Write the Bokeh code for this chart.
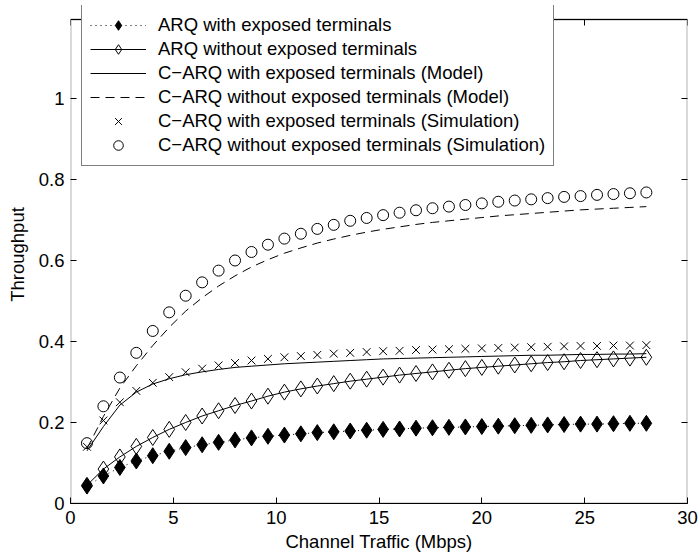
from bokeh.plotting import figure
from bokeh.models import Range1d, LinearAxis, FixedTicker, Legend, LegendItem, BoxAnnotation
from bokeh.embed import file_html
from bokeh.resources import INLINE

FONT = "Liberation Sans"
FS = "18.5px"

# ---------------- data ----------------
traffic = [0.8, 1.6, 2.4, 3.2, 4.0, 4.8, 5.6, 6.4, 7.2, 8.0, 8.8, 9.6, 10.4, 11.2,
           12.0, 12.8, 13.6, 14.4, 15.2, 16.0, 16.8, 17.6, 18.4, 19.2, 20.0, 20.8,
           21.6, 22.4, 23.2, 24.0, 24.8, 25.6, 26.4, 27.2, 28.0]

arq_exposed = [0.043, 0.068, 0.089, 0.105, 0.118, 0.129, 0.138, 0.145, 0.151, 0.157,
               0.162, 0.166, 0.169, 0.172, 0.175, 0.177, 0.179, 0.181, 0.183, 0.184,
               0.186, 0.187, 0.188, 0.189, 0.190, 0.191, 0.192, 0.193, 0.194, 0.195,
               0.196, 0.196, 0.197, 0.198, 0.198]

arq_no_exposed = [0.045, 0.085, 0.115, 0.141, 0.163, 0.183, 0.200, 0.216, 0.229, 0.242,
                  0.253, 0.265, 0.275, 0.283, 0.290, 0.296, 0.302, 0.307, 0.312, 0.317,
                  0.321, 0.325, 0.329, 0.333, 0.336, 0.339, 0.342, 0.345, 0.348, 0.350,
                  0.353, 0.355, 0.357, 0.359, 0.361]

carq_exposed_model = [0.130, 0.190, 0.243, 0.275, 0.295, 0.308, 0.318, 0.325, 0.331, 0.336,
                      0.339, 0.342, 0.345, 0.347, 0.349, 0.351, 0.353, 0.355, 0.357, 0.358,
                      0.359, 0.360, 0.361, 0.362, 0.363, 0.364, 0.365, 0.366, 0.366, 0.367,
                      0.368, 0.368, 0.369, 0.369, 0.370]

carq_no_exposed_model = [0.135, 0.215, 0.285, 0.340, 0.390, 0.435, 0.475, 0.508, 0.537, 0.562,
                         0.584, 0.602, 0.618, 0.631, 0.643, 0.653, 0.662, 0.670, 0.677, 0.683,
                         0.689, 0.694, 0.698, 0.702, 0.706, 0.710, 0.713, 0.716, 0.719, 0.722,
                         0.725, 0.727, 0.729, 0.731, 0.733]

carq_exposed_sim = [0.140, 0.205, 0.250, 0.278, 0.298, 0.312, 0.324, 0.333, 0.341, 0.347,
                    0.353, 0.357, 0.361, 0.364, 0.367, 0.370, 0.372, 0.374, 0.376, 0.377,
                    0.379, 0.380, 0.381, 0.382, 0.383, 0.384, 0.385, 0.386, 0.387, 0.388,
                    0.389, 0.389, 0.390, 0.390, 0.391]

carq_no_exposed_sim = [0.149, 0.240, 0.311, 0.372, 0.426, 0.472, 0.513, 0.546, 0.575, 0.600,
                       0.621, 0.639, 0.654, 0.666, 0.678, 0.688, 0.698, 0.705, 0.712, 0.718,
                       0.724, 0.729, 0.733, 0.737, 0.741, 0.745, 0.748, 0.751, 0.754, 0.757,
                       0.759, 0.762, 0.764, 0.766, 0.768]

series_names = ["ARQ with exposed terminals",
                "ARQ without exposed terminals",
                "C\u2212ARQ with exposed terminals (Model)",
                "C\u2212ARQ without exposed terminals (Model)",
                "C\u2212ARQ with exposed terminals (Simulation)",
                "C\u2212ARQ without exposed terminals (Simulation)"]

x_min, x_max = 0, 30
y_min, y_max = 0, 1.195
x_ticks = [0, 5, 10, 15, 20, 25, 30]
y_ticks = [0, 0.2, 0.4, 0.6, 0.8, 1.0]
y_tick_labels = ["0", "0.2", "0.4", "0.6", "0.8", "1"]
x_label = "Channel Traffic (Mbps)"
y_label = "Throughput"

# ---------------- layout ----------------
W, H = 698, 554
BORDER_L, BORDER_R, BORDER_B = 70, 11, 51
AXES_TOP = 19          # pixel row of the top of the axes box
CANVAS_TOP = 5         # frame starts higher so the legend can overhang the box
frame_h = H - BORDER_B - CANVAS_TOP
box_h = H - BORDER_B - AXES_TOP
y_view_max = y_max * frame_h / box_h

p = figure(width=W, height=H,
           min_border_left=BORDER_L, min_border_right=BORDER_R,
           min_border_top=CANVAS_TOP, min_border_bottom=BORDER_B,
           x_range=Range1d(x_min, x_max), y_range=Range1d(y_min, y_view_max),
           output_backend="svg", toolbar_location=None,
           background_fill_color="white", border_fill_color="white")
p.xgrid.visible = False
p.ygrid.visible = False
p.outline_line_color = None

def style_axis(ax, ticks):
    ax.ticker = FixedTicker(ticks=ticks)
    ax.major_tick_in = 6
    ax.major_tick_out = 0
    ax.minor_tick_in = 0
    ax.minor_tick_out = 0
    ax.axis_line_color = "black"
    ax.axis_line_width = 1
    ax.major_tick_line_color = "black"
    ax.major_label_text_font = FONT
    ax.major_label_text_font_size = FS
    ax.major_label_text_color = "black"

xb = p.xaxis[0]
style_axis(xb, x_ticks)
xb.major_label_standoff = 7
xb.axis_label = x_label
xb.axis_label_text_font = FONT
xb.axis_label_text_font_size = FS
xb.axis_label_text_font_style = "normal"
xb.axis_label_text_color = "black"
xb.axis_label_standoff = 4

yl = p.yaxis[0]
style_axis(yl, y_ticks)
yl.axis_line_color = None
yl.major_label_standoff = 6
yl.major_label_overrides = {t: s for t, s in zip(y_ticks, y_tick_labels)}
yl.axis_label = y_label
yl.axis_label_text_font = FONT
yl.axis_label_text_font_size = FS
yl.axis_label_text_font_style = "normal"
yl.axis_label_text_color = "black"
yl.axis_label_standoff = 8

# top axis sits on the top edge of the axes box (ticks only, no labels)
xt = LinearAxis(fixed_location=y_max)
style_axis(xt, x_ticks)
xt.major_label_text_font_size = "1px"
xt.major_label_standoff = 0
xt.major_label_text_alpha = 0
p.add_layout(xt, "above")

yr = LinearAxis()
style_axis(yr, y_ticks)
yr.axis_line_color = None
yr.major_label_text_font_size = "1px"
yr.major_label_standoff = 0
yr.major_label_text_alpha = 0
p.add_layout(yr, "right")

# axes box (left and right sides; top/bottom come from the axes)
p.add_layout(BoxAnnotation(left=x_min, right=x_max, bottom=y_min, top=y_max,
                           fill_color=None, fill_alpha=0, line_color="black",
                           line_width=2, level="underlay"))

# ---------------- glyphs ----------------
r1l = p.line(traffic, arq_exposed, line_color="black", line_width=1, line_dash="1 4")
r1m = p.scatter(traffic, arq_exposed, marker="diamond", size=16,
                fill_color="black", line_color="black", line_width=1)
r2l = p.line(traffic, arq_no_exposed, line_color="black", line_width=1)
r2m = p.scatter(traffic, arq_no_exposed, marker="diamond", size=16,
                fill_color=None, line_color="black", line_width=1)
r3 = p.line(traffic, carq_exposed_model, line_color="black", line_width=1)
r4 = p.line(traffic, carq_no_exposed_model, line_color="black", line_width=1, line_dash="9 6")
r5 = p.scatter(traffic, carq_exposed_sim, marker="x", size=11,
               line_color="black", line_width=1)
r6 = p.scatter(traffic, carq_no_exposed_sim, marker="circle", size=11,
               fill_color=None, line_color="black", line_width=1)

legend = Legend(items=[LegendItem(label=series_names[0], renderers=[r1l, r1m]),
                       LegendItem(label=series_names[1], renderers=[r2l, r2m]),
                       LegendItem(label=series_names[2], renderers=[r3]),
                       LegendItem(label=series_names[3], renderers=[r4]),
                       LegendItem(label=series_names[4], renderers=[r5]),
                       LegendItem(label=series_names[5], renderers=[r6])],
                location=(11, 337), orientation="vertical",
                label_text_font=FONT, label_text_font_size=FS, label_text_color="black",
                label_height=24, glyph_height=24, glyph_width=56, label_standoff=12,
                spacing=0, padding=8, margin=0,
                border_line_color="black", border_line_width=1,
                background_fill_color="white", background_fill_alpha=1.0)
p.add_layout(legend, "center")

open("out.html", "w").write(file_html(p, INLINE))
